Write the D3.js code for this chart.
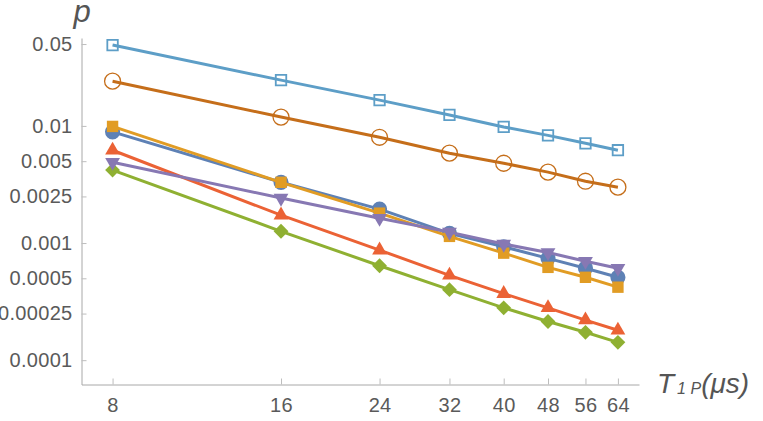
<!DOCTYPE html>
<html>
<head>
<meta charset="utf-8">
<script src="https://cdn.jsdelivr.net/npm/d3@7"></script>
<style>
  html, body { margin: 0; padding: 0; background: #fff; }
  svg { display: block; }
  .tick text { font-family: "Liberation Sans", Arial, sans-serif; font-size: 20px; fill: #5a5a5a; letter-spacing: 0.3px; }
</style>
</head>
<body>
<div id="chart"></div>
<script>
// ---------- data ----------
const tValues = [8, 16, 24, 32, 40, 48, 56, 64];
const pBlueCircle     = [0.0089, 0.0033, 0.00195, 0.00121, 0.00093, 0.00074, 0.00061, 0.00051];
const pOrangeSquare   = [0.0099, 0.0033, 0.0018, 0.00114, 0.00082, 0.00062, 0.00051, 0.00042];
const pGreenDiamond   = [0.0042, 0.00126, 0.00064, 0.0004, 0.00028, 0.000214, 0.000173, 0.000142];
const pRedTriangle    = [0.0062, 0.00173, 0.00087, 0.00053, 0.00037, 0.00028, 0.00022, 0.00018];
const pPurpleTriangle = [0.0049, 0.00242, 0.00163, 0.00124, 0.00098, 0.00083, 0.0007, 0.00061];
const pOpenCircle     = [0.0241, 0.0119, 0.008, 0.00585, 0.0048, 0.00403, 0.00337, 0.003];
const pOpenSquare     = [0.049, 0.0246, 0.0166, 0.0124, 0.0098, 0.0083, 0.0071, 0.0062];

const xTicks = [8, 16, 24, 32, 40, 48, 56, 64];
const yTicks = [0.05, 0.01, 0.005, 0.0025, 0.001, 0.0005, 0.00025, 0.0001];
const yTickLabels = ["0.05", "0.01", "0.005", "0.0025", "0.001", "0.0005", "0.00025", "0.0001"];

// series in drawing order (Mathematica default palette / markers)
const series = [
  { values: pBlueCircle,     color: "#5E81B5", marker: "circle" },
  { values: pOrangeSquare,   color: "#E19C24", marker: "square" },
  { values: pGreenDiamond,   color: "#8FB032", marker: "diamond" },
  { values: pRedTriangle,    color: "#EB6235", marker: "triUp" },
  { values: pPurpleTriangle, color: "#8778B3", marker: "triDown" },
  { values: pOpenCircle,     color: "#C56E1A", marker: "openCircle" },
  { values: pOpenSquare,     color: "#5D9EC7", marker: "openSquare" }
];

// ---------- layout ----------
const W = 763, H = 421;
const x0 = 81.5, x1 = 639, yTop = 38, yBot = 384.5;

const svg = d3.select("#chart").append("svg").attr("width", W).attr("height", H);

const x = d3.scaleLog().domain([7.04, 69.8]).range([x0, x1]);
const y = d3.scaleLog().domain([6.2e-5, 0.0563]).range([yBot, yTop]);

// ---------- axes ----------
const xAxis = d3.axisBottom(x).tickValues(xTicks).tickFormat(d3.format("d"))
  .tickSizeInner(-6).tickSizeOuter(0).tickPadding(13);
const yAxis = d3.axisLeft(y).tickValues(yTicks).tickFormat((d, i) => yTickLabels[i])
  .tickSizeInner(-5).tickSizeOuter(0).tickPadding(9);

const gx = svg.append("g").attr("transform", `translate(0,${yBot})`).call(xAxis);
const gy = svg.append("g").attr("transform", `translate(${x0},0)`).call(yAxis);
[gx, gy].forEach(g => {
  g.select(".domain").attr("stroke", "#a8a8a8").attr("stroke-width", 1);
  g.selectAll(".tick line").attr("stroke", "#bdbdbd").attr("stroke-width", 1);
});

// axis labels
svg.append("text")
  .attr("x", 82).attr("y", 22)
  .attr("text-anchor", "middle")
  .style("font-family", "Liberation Sans, Arial, sans-serif")
  .style("font-style", "italic").style("font-size", "31px")
  .attr("fill", "#555").text("p");

const xl = svg.append("text")
  .attr("x", 657).attr("y", 393)
  .style("font-family", "Liberation Sans, Arial, sans-serif")
  .style("font-style", "italic").style("font-size", "28px")
  .attr("fill", "#555");
xl.append("tspan").text("T");
xl.append("tspan").attr("dx", 3).attr("dy", 1).style("font-size", "16px").text("1 P");
xl.append("tspan").attr("dy", -1).text("(μs)");

// ---------- series ----------
const line = d3.line().x(d => x(d.t)).y(d => y(d.p));

function markerPath(kind) {
  if (kind === "circle") return d3.symbol(d3.symbolCircle, 180)();
  if (kind === "square") return d3.symbol(d3.symbolSquare, 130)();
  if (kind === "diamond") return d3.symbol(d3.symbolSquare, 110)();
  if (kind === "triUp" || kind === "triDown") return d3.symbol(d3.symbolTriangle, 95)();
  if (kind === "openCircle") return d3.symbol(d3.symbolCircle, 200)();
  return d3.symbol(d3.symbolSquare, 110)();
}

series.forEach(s => {
  const pts = tValues.map((t, i) => ({ t: t, p: s.values[i] }));
  const g = svg.append("g");
  g.append("path")
    .attr("d", line(pts))
    .attr("fill", "none")
    .attr("stroke", s.color)
    .attr("stroke-width", 3)
    .attr("stroke-linejoin", "round");

  const open = s.marker === "openCircle" || s.marker === "openSquare";
  const rot = s.marker === "diamond" ? 45 : (s.marker === "triDown" ? 180 : 0);
  g.selectAll("path.m").data(pts).enter().append("path")
    .attr("class", "m")
    .attr("d", markerPath(s.marker))
    .attr("transform", d => `translate(${x(d.t)},${y(d.p)}) rotate(${rot})`)
    .attr("fill", open ? "none" : s.color)
    .attr("stroke", open ? s.color : "none")
    .attr("stroke-width", s.marker === "openSquare" ? 1.8 : 1.3);
});
</script>
</body>
</html>
